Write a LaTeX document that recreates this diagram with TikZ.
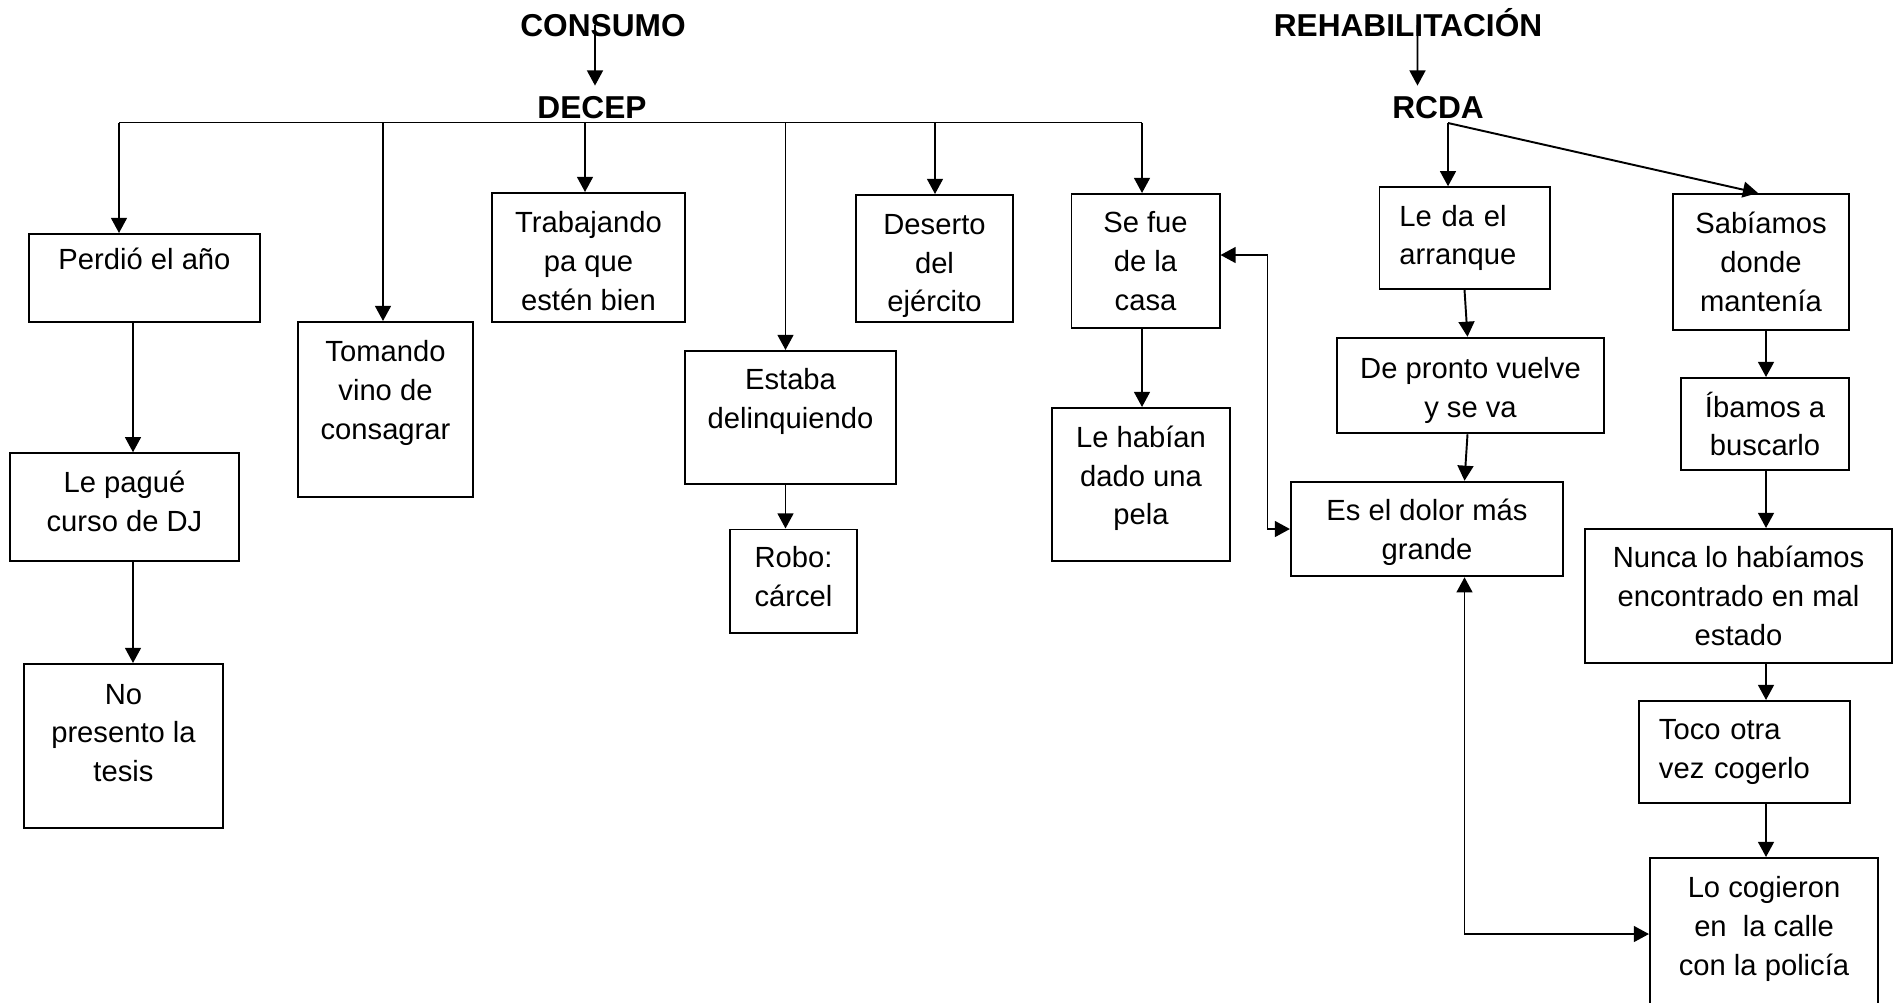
\documentclass[tikz,border=0pt]{standalone}
\usepackage{fontspec}
\setmainfont{Liberation Sans}
\usetikzlibrary{
positioning,%
calc,%
arrows.meta
}
\tikzset{
    box/.style={draw, align=center, inner sep=0pt, font=\fontsize{8.3}{11.05}\selectfont},
    lbox/.style={box, align=left, inner xsep=0.2cm},
    head/.style={font=\bfseries\fontsize{9}{11}\selectfont, inner sep=0pt, text height=6.5pt, text depth=0pt}
}
\newcommand{\lowpad}[1]{\rule[-#1]{0pt}{#1}}
\newcommand{\toppad}[1]{\rule{0pt}{#1}}

\begin{document}
\begin{tikzpicture}[x=0.01cm, y=-0.01cm, >={Triangle[length=4.3pt,width=4.5pt]}, line width=0.55pt]
            \useasboundingbox (0,0) rectangle (1894,1002);
            \node[head] (c) at (603,25) {CONSUMO};
            \node[head] (d) at (592,107) {DECEP};
            \node[head] (h) at (1408,25) {REHABILITACIÓN};
            \node[head] (r) at (1438,107) {RCDA};
            \node[box, minimum width=2.31cm, minimum height=0.88cm] (d1) at (144.5,278) {Perdió el año\\ \mbox{}};
            \node[box, minimum width=2.29cm, minimum height=1.075cm] (d2) at (124.5,507) {Le pagué\\curso de DJ\lowpad{3.4pt}};
            \node[box, minimum width=1.99cm, minimum height=1.64cm] (d3) at (123.5,746) {\toppad{9.3pt}No\\presento la\\tesis\\ \mbox{}};
            \node[box, minimum width=1.75cm, minimum height=1.75cm] (d4) at (385.5,409.5) {Tomando\\vino de\\consagrar\\ \mbox{}};
            \node[box, minimum width=1.93cm, minimum height=1.29cm] (d5) at (588.5,257.5) {\toppad{8.1pt}Trabajando\\pa que\\estén bien};
            \node[box, minimum width=2.11cm, minimum height=1.33cm] (d6) at (790.5,417.5) {Estaba\\delinquiendo\\ \mbox{}};
            \node[box, minimum width=1.27cm, minimum height=1.03cm] (d7) at (793.5,581) {Robo:\\cárcel\lowpad{2.8pt}};
            \node[box, minimum width=1.565cm, minimum height=1.27cm] (d8) at (934.5,258.5) {\toppad{10pt}Deserto\\del\\ejército};
            \node[box, minimum width=1.48cm, minimum height=1.34cm] (d9) at (1145.5,261) {Se fue\\de la\\casa};
            \node[box, minimum width=1.775cm, minimum height=1.53cm] (d10) at (1141,484.5) {Le habían\\dado una\\pela\lowpad{5.2pt}};
            \node[lbox, text width=1.30cm, minimum height=1.015cm] (r1) at (1464.5,238) {Le da el\\arranque};
            \node[box, minimum width=2.67cm, minimum height=0.955cm] (r2) at (1470.5,385.5) {\toppad{8.9pt}De pronto vuelve\\y se va};
            \node[box, minimum width=2.72cm, minimum height=0.945cm] (r3) at (1427,529) {\toppad{8.2pt}Es el dolor más\\grande};
            \node[box, minimum width=1.76cm, minimum height=1.36cm] (r4) at (1761,262) {Sabíamos\\donde\\mantenía};
            \node[box, minimum width=1.68cm, minimum height=0.92cm] (r5) at (1765,424) {Íbamos a\\buscarlo};
            \node[box, minimum width=3.07cm, minimum height=1.34cm] (r6) at (1738.5,596) {Nunca lo habíamos\\encontrado en mal\\estado};
            \node[lbox, text width=1.71cm, minimum height=1.02cm] (r7) at (1744.5,752) {Toco otra\\vez cogerlo};
            \node[box, minimum width=2.28cm, minimum height=1.52cm] (r8) at (1764,934) {Lo cogieron\\en\ \ la calle\\con la policía\lowpad{4.6pt}};
            \draw[->] ([xshift=-0.08cm]c.center) -- ([xshift=0.03cm,yshift=0.09cm]d.north);
            \draw[->] ([xshift=0.095cm]h.center) -- ([xshift=-0.205cm,yshift=0.09cm]r.north);
            \coordinate (b1) at (119,122.5);
            \coordinate (b2) at (383,122.5);
            \coordinate (b3) at (585,122.5);
            \coordinate (b4) at (785.5,122.5);
            \coordinate (b5) at (935,122.5);
            \coordinate (b6) at (1142,122.5);
            \draw (b1) -- (b6);
            \draw[->] (b1) -- (b1 |- d1.north);
            \draw[->] (b2) -- (b2 |- d4.north);
            \draw[->] (b3) -- (b3 |- d5.north);
            \draw[->] (b4) -- (b4 |- d6.north);
            \draw[->] (b5) -- (b5 |- d8.north);
            \draw[->] (b6) -- (b6 |- d9.north);
            \coordinate (l1) at (133,0);
            \draw[->] (d1.south -| l1) -- (d2.north -| l1);
            \draw[->] (d2.south -| l1) -- (d3.north -| l1);
            \draw[->] (d6.south -| b4) -- (d7.north -| b4);
            \draw[->] (d9.south -| b6) -- (d10.north -| b6);
            \draw[<->] ([yshift=0.06cm]d9.east) -- ++(47,0) |- (r3.west);
            \coordinate (r0) at (1448,123);
            \draw[->] (r0) -- (r0 |- r1.north);
            \draw[->] (r0) -- ([xshift=-0.03cm]r4.north);
            \draw[->] (r1.south) -- ([xshift=-0.03cm]r2.north);
            \draw[->] ([xshift=-0.03cm]r2.south) -- (r3.north -| r1.south);
            \coordinate (l2) at (1766,0);
            \draw[->] (r4.south -| l2) -- (r5.north -| l2);
            \draw[->] (r5.south -| l2) -- (r6.north -| l2);
            \draw[->] (r6.south -| l2) -- (r7.north -| l2);
            \draw[->] (r7.south -| l2) -- (r8.north -| l2);
            \draw[<->] (r3.south -| r1.south) |- (r8.west);
        \end{tikzpicture}
\end{document}
